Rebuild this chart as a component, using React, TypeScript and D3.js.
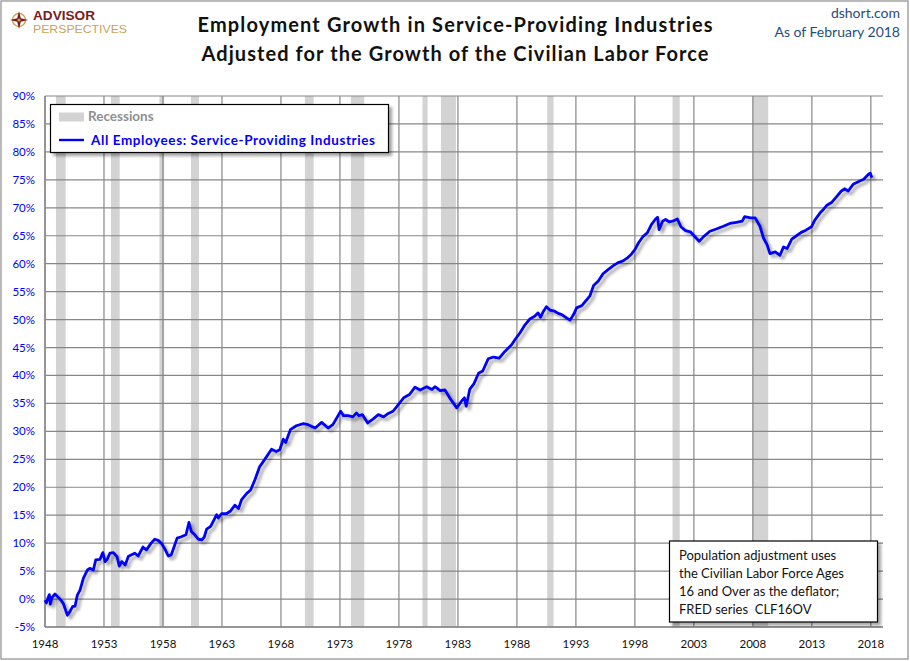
import { scaleLinear, line, range } from "d3";

const WIDTH = 910;
const HEIGHT = 661;
const MARGIN = { top: 96, right: 27, bottom: 34, left: 45 };

// decimal years and percent growth
const years = [
  1948.0, 1948.12, 1948.25, 1948.37, 1948.45, 1948.6, 1948.85, 1949.13, 1949.36, 1949.55,
  1949.7, 1949.9, 1950.1, 1950.35, 1950.55, 1950.74, 1950.97, 1951.25, 1951.6, 1951.8,
  1952.1, 1952.3, 1952.66, 1952.9, 1953.1, 1953.3, 1953.5, 1953.8, 1954.1, 1954.3,
  1954.5, 1954.8, 1955.06, 1955.3, 1955.6, 1955.9, 1956.3, 1956.6, 1957.0, 1957.3,
  1957.6, 1957.9, 1958.2, 1958.45, 1958.7, 1958.9, 1959.2, 1959.5, 1959.95, 1960.2,
  1960.4, 1960.7, 1961.0, 1961.3, 1961.5, 1961.7, 1962.04, 1962.26, 1962.55, 1962.7,
  1962.97, 1963.4, 1963.7, 1964.1, 1964.4, 1964.67, 1965.1, 1965.43, 1965.8, 1966.2,
  1966.6, 1967.2, 1967.6, 1967.9, 1968.2, 1968.4, 1968.8, 1969.3, 1969.9, 1970.3,
  1970.9, 1971.45, 1972.0, 1972.4, 1973.06, 1973.3, 1973.7, 1974.1, 1974.4, 1974.6,
  1974.9, 1975.35, 1975.8, 1976.25, 1976.7, 1977.1, 1977.5, 1977.95, 1978.4, 1978.9,
  1979.36, 1979.8, 1980.35, 1980.8, 1981.05, 1981.5, 1981.9, 1982.3, 1982.9, 1983.3,
  1983.55, 1983.7, 1984.0, 1984.35, 1984.75, 1985.1, 1985.57, 1986.0, 1986.5, 1986.98,
  1987.55, 1987.8, 1988.25, 1988.7, 1989.1, 1989.5, 1989.8, 1990.0, 1990.2, 1990.5,
  1990.8, 1991.2, 1991.5, 1991.8, 1992.2, 1992.5, 1992.8, 1993.06, 1993.5, 1993.9,
  1994.2, 1994.5, 1994.9, 1995.3, 1995.7, 1996.2, 1996.6, 1997.0, 1997.4, 1997.7,
  1998.0, 1998.3, 1998.7, 1999.05, 1999.4, 1999.75, 1999.92, 2000.05, 2000.35, 2000.6,
  2000.9, 2001.2, 2001.6, 2001.9, 2002.3, 2002.7, 2003.05, 2003.45, 2003.8, 2004.36,
  2004.9, 2005.5, 2006.05, 2006.6, 2007.1, 2007.3, 2007.8, 2008.2, 2008.6, 2008.9,
  2009.2, 2009.45, 2009.9, 2010.3, 2010.6, 2010.9, 2011.3, 2011.7, 2012.1, 2012.5,
  2012.97, 2013.25, 2013.7, 2013.98, 2014.25, 2014.7, 2015.1, 2015.5, 2015.8, 2016.08,
  2016.5, 2017.07, 2017.4, 2017.8, 2017.95, 2018.08,
];

const growth = [
  -0.2, -0.7, 0.2, 0.8, -0.9, 0.3, 0.9, 0.3, -0.2, -0.8,
  -1.7, -2.9, -2.3, -1.3, -1.3, 0.7, 1.6, 3.7, 5.2, 5.5,
  5.2, 7.0, 7.1, 8.3, 6.7, 7.2, 8.2, 8.3, 7.6, 5.9,
  6.7, 6.1, 7.6, 7.9, 8.2, 7.7, 9.3, 8.8, 10.0, 10.7,
  10.5, 9.9, 8.8, 7.7, 7.9, 9.1, 10.9, 11.1, 11.5, 13.7,
  12.1, 11.5, 10.7, 10.6, 11.1, 12.5, 13.0, 13.9, 15.1, 14.5,
  15.3, 15.3, 15.7, 16.8, 16.2, 17.8, 18.9, 19.5, 21.4, 23.7,
  24.9, 26.8, 26.4, 26.7, 28.6, 28.0, 30.3, 31.0, 31.4, 31.2,
  30.6, 31.6, 30.6, 31.2, 33.6, 32.8, 32.8, 32.6, 33.3, 32.8,
  33.0, 31.5, 32.2, 33.0, 32.6, 33.2, 33.6, 34.8, 36.0, 36.6,
  37.9, 37.4, 38.0, 37.5, 38.0, 37.3, 37.4, 36.0, 34.2, 35.4,
  36.0, 34.5, 37.5, 38.5, 40.4, 40.8, 43.0, 43.3, 43.1, 44.3,
  45.5, 46.3, 47.6, 49.1, 50.1, 50.6, 51.2, 50.4, 51.3, 52.3,
  51.7, 51.5, 51.1, 50.9, 50.3, 49.9, 50.9, 52.1, 52.5, 53.5,
  54.3, 56.1, 56.9, 58.2, 58.9, 59.7, 60.2, 60.5, 61.1, 61.7,
  62.5, 63.7, 64.9, 65.5, 67.0, 68.0, 68.3, 66.1, 67.6, 67.9,
  67.5, 67.6, 68.0, 66.6, 65.9, 65.7, 64.9, 64.0, 64.8, 65.8,
  66.2, 66.7, 67.2, 67.4, 67.6, 68.4, 68.2, 68.2, 66.7, 64.6,
  63.4, 61.8, 62.1, 61.5, 63.0, 62.7, 64.4, 65.0, 65.6, 66.0,
  66.6, 67.8, 69.1, 69.7, 70.4, 71.0, 72.0, 73.0, 73.4, 73.0,
  74.2, 74.8, 75.1, 76.0, 76.2, 75.4,
];

const recessionStarts = [1948.93, 1953.59, 1957.7, 1960.37, 1970.03, 1973.93, 1980.0, 1981.56, 1990.57, 2001.19, 2007.97];
const recessionEnds = [1949.75, 1954.33, 1958.1, 1961.05, 1970.77, 1975.06, 1980.43, 1982.83, 1991.1, 2001.8, 2009.3];

const xTickYears = range(1948, 2019, 5);
const yTickValues = range(-5, 91, 5);

const noteLines = [
  "Population adjustment uses",
  "the Civilian Labor Force Ages",
  "16 and Over as the deflator;",
  "FRED series  CLF16OV",
];

const FONT = "Lato, 'Open Sans', sans-serif";
const GRID = "#878787";
const BLUE = "#0000ff";

export default function App() {
  const innerW = WIDTH - MARGIN.left - MARGIN.right;
  const innerH = HEIGHT - MARGIN.top - MARGIN.bottom;

  const x = scaleLinear().domain([1948, 2019.03]).range([MARGIN.left, MARGIN.left + innerW]);
  const y = scaleLinear().domain([-5, 90]).range([MARGIN.top + innerH, MARGIN.top]);

  const points = years.map((yr, i) => [yr, growth[i]] as [number, number]);
  const path = line<[number, number]>()
    .x((d) => x(d[0]))
    .y((d) => y(d[1]))(points) ?? "";

  return (
    <>
      <style>{`body{margin:0;background:#fff}`}</style>
      <svg width={WIDTH} height={HEIGHT} style={{ display: "block", fontFamily: FONT }}>
        <defs>
          <filter id="shadow" x="-10%" y="-10%" width="120%" height="130%">
            <feDropShadow dx={3} dy={3} stdDeviation={1.6} floodColor="#000" floodOpacity={0.35} />
          </filter>
        </defs>

        <rect x={0} y={0} width={WIDTH} height={HEIGHT} fill="#fff" />
        <rect x={1} y={1} width={WIDTH - 3} height={HEIGHT - 3} fill="none" stroke="#8c8c8c" strokeWidth={1.2} />

        {/* logo */}
        <g transform="translate(19,20)">
          <circle r={6.5} fill="none" stroke="#c9a35c" strokeWidth={1.4} />
          <path d="M0,-9 L1.8,-1.8 L9,0 L1.8,1.8 L0,9 L-1.8,1.8 L-9,0 L-1.8,-1.8 Z" fill="#7a1c1c" />
          <circle r={1.6} fill="#c9a35c" />
        </g>
        <text x={33} y={20} fontSize={12} fontWeight={700} fill="#7a1c1c" textLength={62} lengthAdjust="spacingAndGlyphs" fontFamily="'Liberation Sans', sans-serif">
          ADVISOR
        </text>
        <text x={33} y={33} fontSize={11} fill="#c9a35c" textLength={94} lengthAdjust="spacingAndGlyphs" fontFamily="'Liberation Sans', sans-serif">
          PERSPECTIVES
        </text>

        {/* titles */}
        <text x={455} y={32} textAnchor="middle" fontSize={20} fontWeight={700} fill="#111" textLength={515}>
          Employment Growth in Service-Providing Industries
        </text>
        <text x={455} y={61} textAnchor="middle" fontSize={20} fontWeight={700} fill="#111" textLength={507}>
          Adjusted for the Growth of the Civilian Labor Force
        </text>
        <text x={900} y={18} textAnchor="end" fontSize={14} fill="#1f4e79">
          dshort.com
        </text>
        <text x={900} y={37} textAnchor="end" fontSize={14} fill="#1f4e79">
          As of February 2018
        </text>

        {/* recessions */}
        {recessionStarts.map((s, i) => (
          <rect
            key={s}
            x={x(s)}
            y={MARGIN.top}
            width={x(recessionEnds[i]) - x(s)}
            height={innerH}
            fill="#d3d3d3"
          />
        ))}

        {/* grid */}
        {yTickValues.map((t) => (
          <g key={t}>
            <line x1={MARGIN.left} x2={MARGIN.left + innerW} y1={y(t)} y2={y(t)} stroke={GRID} strokeWidth={1.2} />
            <text x={35} y={y(t)} dy="0.35em" textAnchor="end" fontSize={11.5} fill={BLUE}>
              {t}%
            </text>
          </g>
        ))}
        {xTickYears.map((t) => (
          <g key={t}>
            <line x1={x(t)} x2={x(t)} y1={MARGIN.top} y2={MARGIN.top + innerH} stroke={GRID} strokeWidth={1.2} />
            <text x={x(t)} y={648} textAnchor="middle" fontSize={11.5} fill="#111">
              {t}
            </text>
          </g>
        ))}
        <line x1={MARGIN.left} x2={MARGIN.left} y1={MARGIN.top} y2={MARGIN.top + innerH} stroke={GRID} strokeWidth={1.4} />
        <line x1={MARGIN.left} x2={MARGIN.left + innerW} y1={MARGIN.top + innerH} y2={MARGIN.top + innerH} stroke={GRID} strokeWidth={1.4} />

        {/* series */}
        <path d={path} fill="none" stroke={BLUE} strokeWidth={2.8} strokeLinejoin="round" filter="url(#shadow)" />

        {/* legend */}
        <rect x={50.5} y={104.5} width={338} height={48} fill="#fff" stroke="#000" strokeWidth={1.2} filter="url(#shadow)" />
        <rect x={59} y={112.5} width={25} height={9} fill="#d3d3d3" />
        <text x={88} y={121} fontSize={13.5} fontWeight={700} fill="#8f8f8f">
          Recessions
        </text>
        <line x1={59} x2={84} y1={140} y2={140} stroke={BLUE} strokeWidth={2.4} />
        <text x={91} y={145} fontSize={13.5} fontWeight={700} fill={BLUE} textLength={284}>
          All Employees: Service-Providing Industries
        </text>

        {/* note */}
        <rect x={669.5} y={541} width={208} height={81} fill="#fff" stroke="#000" strokeWidth={1.2} filter="url(#shadow)" />
        {noteLines.map((t, i) => (
          <text key={t} x={679} y={560 + i * 18} fontSize={13} fill="#111" style={{ whiteSpace: "pre" }}>
            {t}
          </text>
        ))}
      </svg>
    </>
  );
}
